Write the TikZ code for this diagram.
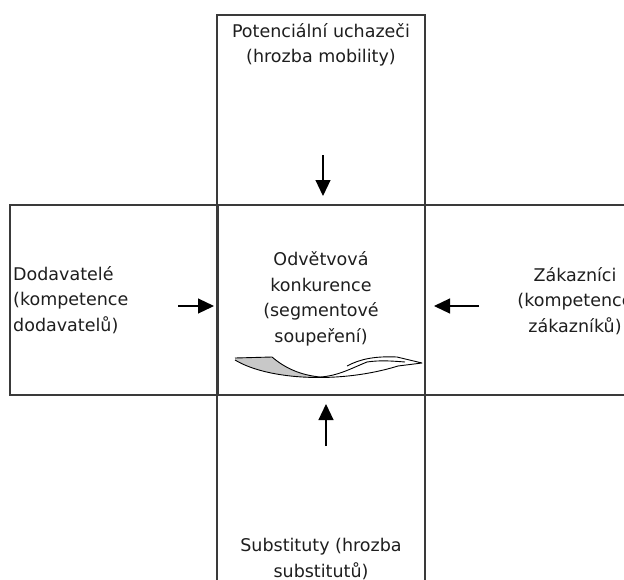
\documentclass[tikz,border=0pt]{standalone}
\usepackage{fontspec}
\setmainfont{DejaVu Sans}
\usetikzlibrary{arrows.meta}
\definecolor{linec}{HTML}{3A3A3A}
\definecolor{textc}{HTML}{1E1E1E}
\definecolor{swoosh}{HTML}{C8C8C8}
\tikzset{
  box/.style={draw=linec, line width=1.2pt, inner sep=0pt},
  lbl/.style={inner sep=0pt, text=textc, font=\fontsize{17.5}{25.5}\selectfont},
  force/.style={draw=black, line width=1.2pt, -{Triangle[length=16pt,width=15pt]}},
  swo/.style={draw=black, line width=0.9pt, line join=round}
}
\begin{document}
\begin{tikzpicture}[x=1pt,y=-1pt]
\useasboundingbox (0,0) rectangle (624,579);
\clip (0,0) rectangle (624,579);
\fill[white] (0,0) rectangle (624,579);
% boxes
\node[box, minimum width=208pt, minimum height=190pt] (topbox) at (321,110) {};
\node[box, minimum width=208pt, minimum height=190pt] (leftbox) at (114,300) {};
\node[box, minimum width=208pt, minimum height=190pt] (centerbox) at (321,300) {};
\node[box, minimum width=308pt, minimum height=190pt] (rightbox) at (579,300) {};
\node[box, minimum width=208pt, minimum height=305pt] (bottombox) at (321,547.5) {};
% labels
\node[lbl, align=center] (toptext) at (321,45) {Potenciální uchazeči\\(hrozba mobility)};
\node[lbl, align=left, anchor=west] (lefttext) at (13,300) {Dodavatelé\\(kompetence\\dodavatelů)};
\node[lbl, align=center] (centertext) at (321,299) {Odvětvová\\konkurence\\(segmentové\\soupeření)};
\node[lbl, align=center] (righttext) at (575,301) {Zákazníci\\(kompetence\\zákazníků)};
\node[lbl, align=center] (bottomtext) at (321,559) {Substituty (hrozba\\substitutů)};
% arrows
\coordinate (ta) at (323,155); \coordinate (tb) at (323,196);
\coordinate (ba) at (326,446); \coordinate (bb) at (326,404);
\coordinate (la) at (178,306); \coordinate (lb) at (214,306);
\coordinate (ra) at (479,306); \coordinate (rb) at (434,306);
\draw[force] (ta) -- (tb);
\draw[force] (ba) -- (bb);
\draw[force] (la) -- (lb);
\draw[force] (ra) -- (rb);
% curved ribbon arrow
\fill[swoosh] (235,358) -- (272,357) .. controls (285,368) and (300,375) .. (318,377)
   .. controls (285,378) and (255,371) .. (235,360) -- cycle;
\draw[swo] (235,358) -- (272,357) .. controls (285,368) and (300,375) .. (320,377);
\draw[swo] (235,360) .. controls (268,380) and (340,384) .. (398,366);
\draw[swo] (320,377) .. controls (338,376) and (352,368) .. (367,362);
\draw[swo] (347,366) .. controls (360,359) and (375,356) .. (397,357) -- (422,363) -- (398,366);
\draw[swo] (367,362) .. controls (380,360) and (392,361) .. (405,362);
\end{tikzpicture}
\end{document}
